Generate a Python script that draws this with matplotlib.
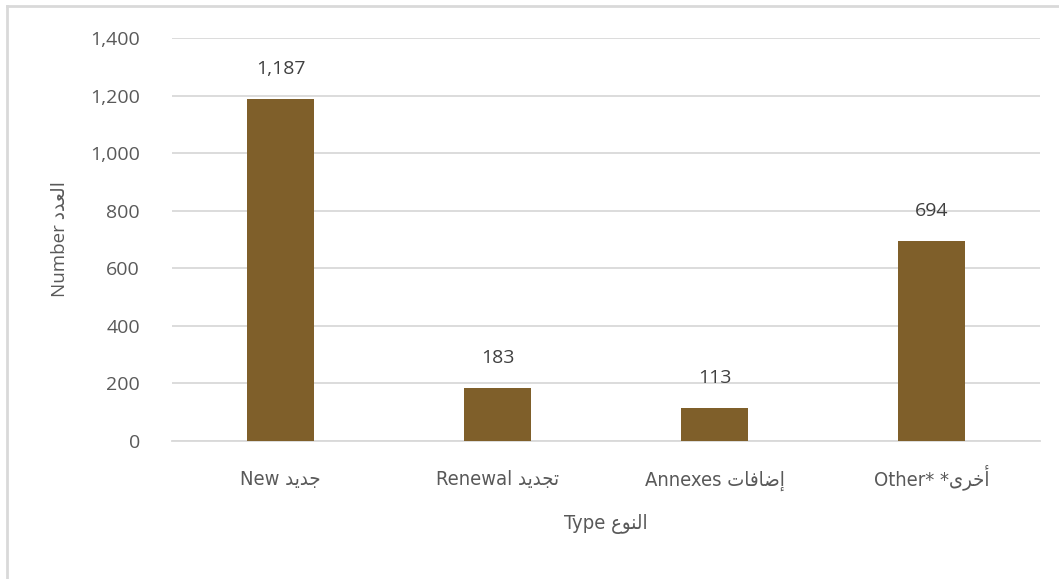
# Bar chart: number of items by type (bilingual labels, Arabic pre-shaped for matplotlib)
import numpy as np
import matplotlib.pyplot as plt
from matplotlib.lines import Line2D

# Arabic words written as presentation forms in visual (left-to-right) order,
# because matplotlib does no Arabic shaping or bidi reordering
ar_new = "\uFEAA\uFEF3\uFEAA\uFE9F"              # جديد
ar_renewal = "\uFEAA\uFEF3\uFEAA\uFEA0\uFE97"    # تجديد
ar_annexes = "\uFE95\uFE8E\uFED3\uFE8E\uFEBF\uFE87"  # إضافات
ar_other = "\uFEEF\uFEAE\uFEA7\uFE83"            # أخرى
ar_type = "\uFEC9\uFEEE\uFEE8\uFEDF\uFE8D"       # النوع
ar_number = "\uFEA9\uFEAA\uFECC\uFEDF\uFE8D"     # العدد

categories = ["New " + ar_new, "Renewal " + ar_renewal,
              "Annexes " + ar_annexes, "Other* *" + ar_other]
values = [1187, 183, 113, 694]
yticks = [0, 200, 400, 600, 800, 1000, 1200, 1400]

bar_color = '#7F5F2A'
grid_color = '#D9D9D9'
text_color = '#595959'
num_font = ['Open Sans', 'DejaVu Sans']

fig = plt.figure(figsize=(10.59, 5.79), dpi=100)
ax = fig.add_axes([0.1624, 0.2383, 0.8196, 0.6961])

x = np.arange(len(categories))
bars = ax.bar(x, values, width=0.31, color=bar_color, zorder=3)

for xi, v in zip(x, values):
    ax.annotate(f"{v:,}", (xi, v), xytext=(0, 22), textcoords='offset points',
                ha='center', va='center', fontsize=14, color='#404040',
                family=num_font)

ax.set_xlim(-0.5, len(categories) - 0.5)
ax.set_ylim(0, 1400)
ax.set_yticks(yticks)
ax.set_yticklabels([f"{t:,}" for t in yticks], fontsize=14, color=text_color,
                   family=num_font)
ax.set_xticks(x)
ax.set_xticklabels(categories, fontsize=14.5, color=text_color,
                   family='DejaVu Sans', fontstretch='condensed')
for lbl in ax.get_xticklabels():
    lbl.set_va('baseline')
ax.tick_params(axis='y', length=0, pad=23)
ax.tick_params(axis='x', length=0, pad=32)

ax.grid(axis='y', color=grid_color, linewidth=1.3, zorder=0)
for s in ['top', 'right', 'left']:
    ax.spines[s].set_visible(False)
ax.spines['bottom'].set_color(grid_color)
ax.spines['bottom'].set_linewidth(1.3)

ax.set_xlabel("Type " + ar_type, fontsize=14.5, color=text_color, labelpad=17,
              family='DejaVu Sans', fontstretch='condensed')
ax.set_ylabel("Number " + ar_number, fontsize=13.5, color=text_color, labelpad=15,
              family=num_font)

# chart area border (top and left edges visible)
fig.add_artist(Line2D([0.0068, 1.0], [0.990, 0.990], color=grid_color, lw=2,
                      transform=fig.transFigure))
fig.add_artist(Line2D([0.0068, 0.0068], [0.0, 0.990], color=grid_color, lw=2,
                      transform=fig.transFigure))

fig.savefig('out.png', dpi=100, facecolor='white')
